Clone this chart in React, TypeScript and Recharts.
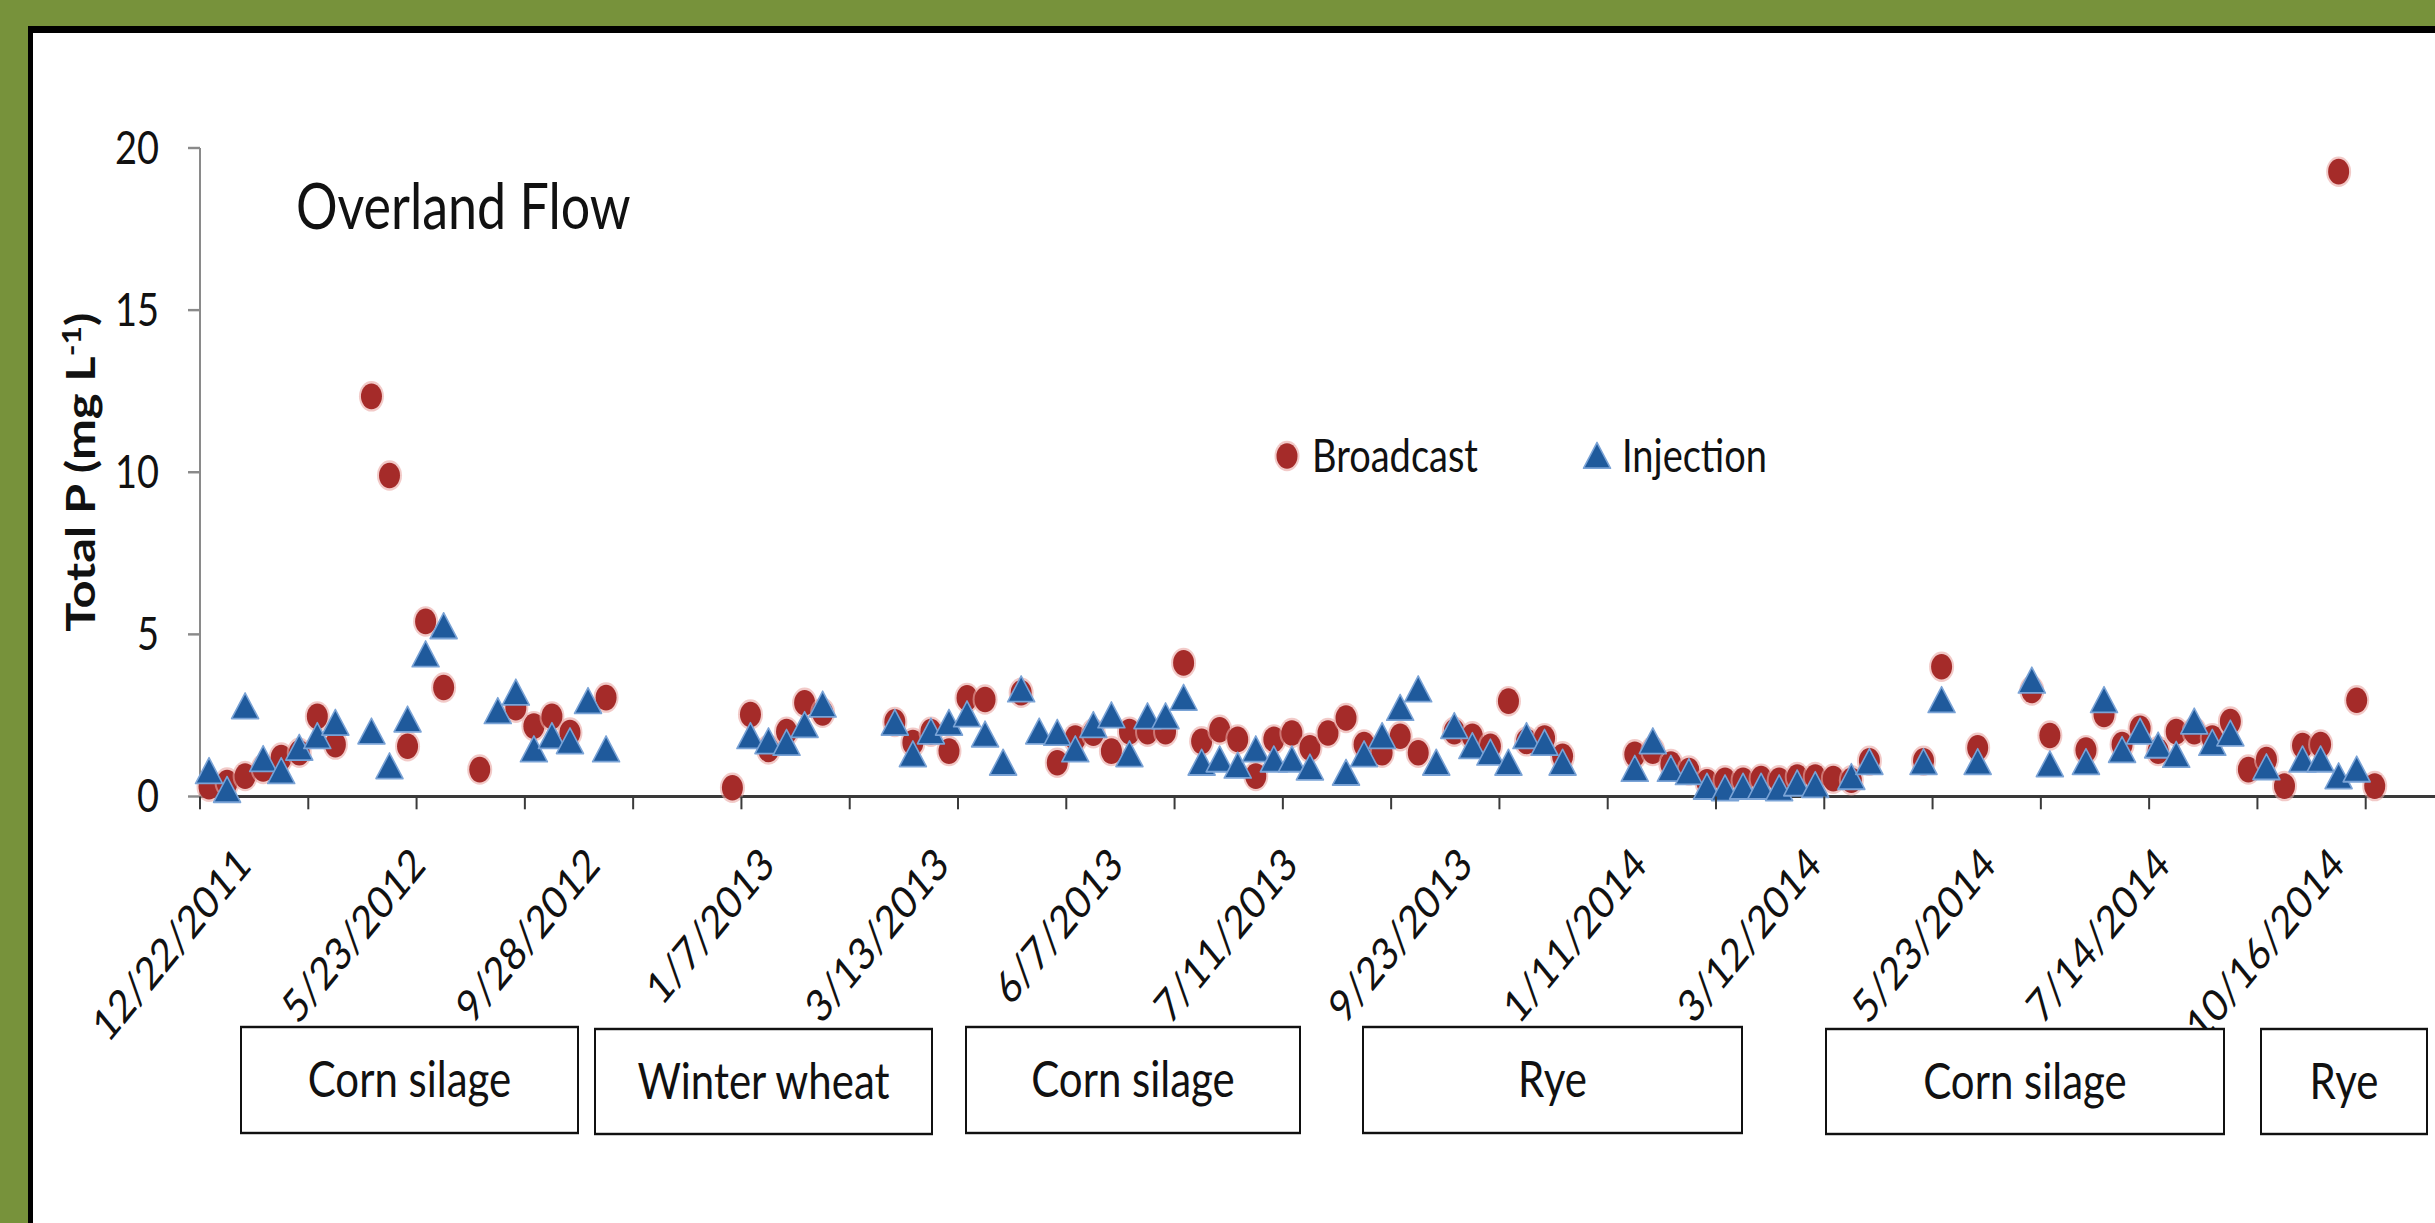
import React from "react"
import { ScatterChart, Scatter, XAxis, YAxis, Legend } from "recharts"

// the source picture is stretched vertically, so draw flat and scale up
const STRETCH = 1.22
const CHART_W = 2480
const CHART_H = 1223 / STRETCH
const FONT = "Lato, 'Open Sans', sans-serif"

// total P (mg L-1) per sampling event, null = no sample that event
const broadcast: (number | null)[] = [
  0.3, 0.43, 0.63, 0.85, 1.2, 1.35, 2.47, 1.6, null, 12.34,
  9.9, 1.55, 5.4, 3.36, null, 0.83, null, 2.74, 2.17, 2.47,
  1.97, null, 3.05, null, null, null, null, null, null, 0.27,
  2.53, 1.45, 2.0, 2.89, 2.58, null, null, null, 2.3, 1.66,
  2.0, 1.4, 3.04, 2.99, null, 3.2, null, 1.04, 1.8, 1.95,
  1.4, 2.0, 2.0, 2.0, 4.12, 1.7, 2.06, 1.76, 0.63, 1.76,
  1.96, 1.5, 1.96, 2.42, 1.6, 1.35, 1.86, 1.35, null, 2.0,
  1.86, 1.55, 2.94, 1.7, 1.8, 1.24, null, null, null, 1.3,
  1.4, 1.0, 0.8, 0.45, 0.5, 0.5, 0.55, 0.5, 0.6, 0.6,
  0.55, 0.5, 1.1, null, null, 1.1, 4.0, null, 1.5, null,
  null, 3.27, 1.88, null, 1.43, 2.53, 1.6, 2.1, 1.4, 2.0,
  2.0, 1.8, 2.31, 0.83, 1.14, 0.32, 1.57, 1.6, 19.27, 2.97,
  0.32,
]

const injection: (number | null)[] = [
  0.78, 0.2, 2.78, 1.15, 0.78, 1.5, 1.86, 2.27, null, 2.0,
  0.93, 2.37, 4.38, 5.25, null, null, 2.63, 3.2, 1.45, 1.86,
  1.7, 2.94, 1.45, null, null, null, null, null, null, null,
  1.86, 1.7, 1.65, 2.2, 2.83, null, null, null, 2.27, 1.3,
  2.0, 2.27, 2.53, 1.91, 1.04, 3.3, 2.0, 1.96, 1.45, 2.2,
  2.5, 1.3, 2.47, 2.47, 3.04, 1.04, 1.14, 0.95, 1.45, 1.14,
  1.14, 0.89, null, 0.73, 1.3, 1.86, 2.73, 3.3, 1.04, 2.17,
  1.55, 1.35, 1.04, 1.86, 1.65, 1.04, null, null, null, 0.85,
  1.7, 0.85, 0.75, 0.3, 0.25, 0.3, 0.3, 0.25, 0.4, 0.35,
  null, 0.6, 1.06, null, null, 1.06, 2.97, null, 1.06, null,
  null, 3.57, 0.99, null, 1.06, 2.97, 1.43, 2.0, 1.57, 1.28,
  2.31, 1.65, 1.94, null, 0.9, null, 1.14, 1.14, 0.62, 0.83,
  null,
]

// category axis: date labels and where they sit (in event units)
const dateLabels = [
  "12/22/2011", "5/23/2012", "9/28/2012", "1/7/2013", "3/13/2013", "6/7/2013", "7/11/2013",
  "9/23/2013", "1/11/2014", "3/12/2014", "5/23/2014", "7/14/2014", "10/16/2014",
]
const labelPos = [0.5, 10.17, 19.83, 29.5, 39.17, 48.83, 58.5, 68.17, 77.83, 87.5, 97.17, 106.83, 116.5]
const tickPos = [0, 6, 12, 18, 24, 30, 36, 42, 48, 54, 60, 66, 72, 78, 84, 90, 96, 102, 108, 114, 120, 126]
const yTicks = [0, 5, 10, 15, 20]

const cropNames = ["Corn silage", "Winter wheat", "Corn silage", "Rye", "Corn silage", "Rye"]
// box layout in page pixels
const cropBoxes = [
  { x0: 241, x1: 578, top: 1027, bottom: 1133 },
  { x0: 595, x1: 932, top: 1029, bottom: 1134 },
  { x0: 966, x1: 1300, top: 1027, bottom: 1133 },
  { x0: 1363, x1: 1742, top: 1027, bottom: 1133 },
  { x0: 1826, x1: 2224, top: 1029, bottom: 1134 },
  { x0: 2261, x1: 2427, top: 1029, bottom: 1134 },
]

const toPoints = (vals: (number | null)[]) =>
  vals.flatMap((v, i) => (v == null ? [] : [{ x: i + 0.5, y: v }]))

const broadcastData = toPoints(broadcast)
const injectionData = toPoints(injection)
const xTicks = [...tickPos, ...labelPos].sort((a, b) => a - b)

const RED = "#a52b29"
const BLUE = "#1f5a9c"
const AXIS_DARK = "#3a3a3a"

const Dot = ({ cx, cy }: any) => (
  <g>
    <circle cx={cx} cy={cy} r={12.5} fill="#e9a7a3" opacity={0.6} />
    <circle cx={cx} cy={cy} r={10.5} fill={RED} />
  </g>
)

const Tri = ({ cx, cy }: any) => (
  <polygon
    points={`${cx},${cy - 11} ${cx - 13.5},${cy + 10} ${cx + 13.5},${cy + 10}`}
    fill={BLUE}
    stroke="#7aa3d6"
    strokeWidth={1.5}
    strokeLinejoin="round"
  />
)

const YTick = ({ x, y, payload }: any) => (
  <text x={x} y={y} dy={13} textAnchor="end" fontFamily={FONT} fontSize={38} fill="#111">
    {payload.value}
  </text>
)

// tick marks every 6 events, rotated date labels in between
const XTick = ({ x, y, payload }: any) => {
  const li = labelPos.findIndex((p) => Math.abs(p - payload.value) < 1e-6)
  if (li < 0) {
    return <line x1={x} x2={x} y1={y} y2={y + 10.5} stroke={AXIS_DARK} strokeWidth={2} />
  }
  const ax = x + 44
  const ay = y + 58
  return (
    <text
      x={ax}
      y={ay}
      transform={`rotate(-45 ${ax} ${ay})`}
      textAnchor="end"
      fontFamily={FONT}
      fontSize={37}
      fill="#111"
    >
      {dateLabels[li]}
    </text>
  )
}

const YTitle = () => {
  const x = 95
  const cy = (148 + 796.5) / 2 / STRETCH
  return (
    <text
      x={x}
      y={cy}
      transform={`rotate(-90 ${x} ${cy})`}
      textAnchor="middle"
      fontFamily={FONT}
      fontWeight={700}
      fontSize={40}
      fill="#111"
    >
      Total P (mg L<tspan dy={-14} fontSize={26}>-1</tspan>
      <tspan dy={14}>)</tspan>
    </text>
  )
}

const legendSpots = [
  { mx: 1287, tx: 1312 },
  { mx: 1597, tx: 1622 },
]

const LegendBox = ({ payload }: any) => (
  <svg
    width={CHART_W}
    height={CHART_H}
    style={{ position: "absolute", left: 0, top: 0, overflow: "visible", pointerEvents: "none" }}
  >
    {(payload || []).map((p: any, i: number) => {
      const spot = legendSpots[i]
      const cy = 456 / STRETCH
      return (
        <g key={p.value}>
          {i === 0 ? <Dot cx={spot.mx} cy={cy} /> : <Tri cx={spot.mx} cy={cy} />}
          <text x={spot.tx} y={cy + 13.5} fontFamily={FONT} fontSize={38} fill="#111">
            {p.value}
          </text>
        </g>
      )
    })}
  </svg>
)

export default function App() {
  const plotTop = 148 / STRETCH
  const plotBottom = 796.5 / STRETCH
  return (
    <div
      style={{
        position: "absolute",
        left: 0,
        top: 0,
        width: 2435,
        height: 1223,
        overflow: "hidden",
        background: "#fff",
      }}
    >
      <div
        style={{
          position: "absolute",
          left: 0,
          top: 0,
          width: CHART_W,
          height: CHART_H,
          transform: `scaleY(${STRETCH})`,
          transformOrigin: "0 0",
        }}
      >
        <ScatterChart
          width={CHART_W}
          height={CHART_H}
          margin={{ top: plotTop, right: 6, left: 0, bottom: CHART_H - plotBottom - 52 }}
        >
          <XAxis
            xAxisId="main"
            type="number"
            dataKey="x"
            domain={[0, 126]}
            ticks={xTicks}
            interval={0}
            height={52}
            axisLine={{ stroke: AXIS_DARK, strokeWidth: 2.5 }}
            tickLine={false}
            tickSize={0}
            tickMargin={0}
            tick={XTick}
          />
          <YAxis
            yAxisId="y"
            type="number"
            dataKey="y"
            domain={[0, 20]}
            ticks={yTicks}
            interval={0}
            width={200}
            axisLine={{ stroke: "#8a8a8a", strokeWidth: 2 }}
            tickLine={{ stroke: "#8a8a8a", strokeWidth: 2 }}
            tickSize={12}
            tickMargin={29}
            tick={YTick}
            label={YTitle}
          />
          <Legend content={LegendBox} wrapperStyle={{ position: "absolute", left: 0, top: 0, width: 0, height: 0 }} />
          <Scatter
            name="Broadcast"
            data={broadcastData}
            xAxisId="main"
            yAxisId="y"
            fill={RED}
            shape={Dot}
            legendType="circle"
            isAnimationActive={false}
          />
          <Scatter
            name="Injection"
            data={injectionData}
            xAxisId="main"
            yAxisId="y"
            fill={BLUE}
            shape={Tri}
            legendType="triangle"
            isAnimationActive={false}
          />
        </ScatterChart>
        <svg
          width={CHART_W}
          height={CHART_H}
          style={{ position: "absolute", left: 0, top: 0, pointerEvents: "none" }}
        >
          <text x={296} y={229 / STRETCH} fontFamily={FONT} fontSize={52} fill="#111">
            Overland Flow
          </text>
          {cropBoxes.map((b, i) => (
            <g key={i}>
              <rect
                x={b.x0}
                y={b.top / STRETCH}
                width={b.x1 - b.x0}
                height={(b.bottom - b.top) / STRETCH}
                fill="#fff"
                stroke="#111"
                strokeWidth={2}
              />
              <text
                x={(b.x0 + b.x1) / 2}
                y={(b.top + b.bottom) / 2 / STRETCH + 14}
                textAnchor="middle"
                fontFamily={FONT}
                fontSize={42}
                fill="#111"
              >
                {cropNames[i]}
              </text>
            </g>
          ))}
        </svg>
      </div>
      {/* green frame with black inner edge */}
      <div style={{ position: "absolute", left: 0, top: 0, width: 2435, height: 26, background: "#77923b" }} />
      <div style={{ position: "absolute", left: 0, top: 0, width: 28, height: 1223, background: "#77923b" }} />
      <div style={{ position: "absolute", left: 28, top: 26, width: 2407, height: 7, background: "#000" }} />
      <div style={{ position: "absolute", left: 28, top: 26, width: 5, height: 1197, background: "#000" }} />
    </div>
  )
}
